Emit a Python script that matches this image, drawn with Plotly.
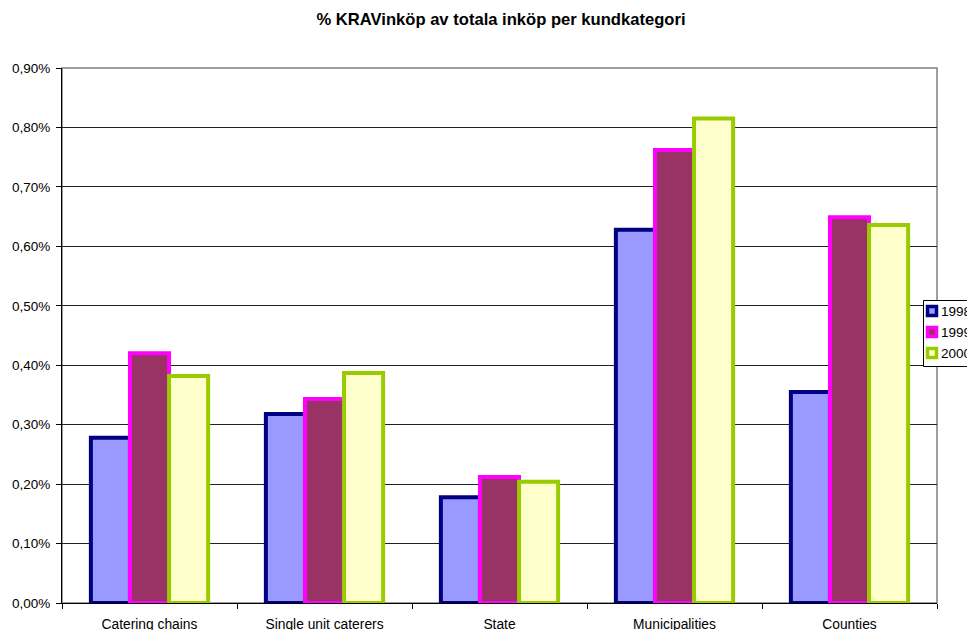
import plotly.graph_objects as go

categories = ["Catering chains", "Single unit caterers", "State", "Municipalities", "Counties"]
years = ["1998", "1999", "2000"]
v1998 = [0.278, 0.318, 0.178, 0.628, 0.355]
v1999 = [0.420, 0.343, 0.212, 0.762, 0.649]
v2000 = [0.382, 0.387, 0.204, 0.815, 0.636]
tick_vals = [0.0, 0.1, 0.2, 0.3, 0.4, 0.5, 0.6, 0.7, 0.8, 0.9]
tick_text = ["0,00%", "0,10%", "0,20%", "0,30%", "0,40%", "0,50%", "0,60%", "0,70%", "0,80%", "0,90%"]

fills = ["#9999FF", "#993366", "#FFFFCC"]
lines = ["#000080", "#FF00FF", "#99CC00"]

# page has an 8px body margin; the figure is sized so it fills the window
OFF = 8
W, H = 975 - OFF, 630 - OFF
PL, PR, PT, PB = 62, 937, 68, 603          # plot area in page pixels
ML, MR, MT, MB = PL - OFF, W + OFF - PR, PT - OFF, H + OFF - PB
PW, PH = PR - PL, PB - PT


def px_x(px):
    return (px - PL) / PW


def px_y(py):
    return (PB - py) / PH


fig = go.Figure()
for name, vals, fc, lc in zip(years, [v1998, v1999, v2000], fills, lines):
    fig.add_trace(go.Bar(
        x=categories, y=vals, name=name, showlegend=False,
        marker=dict(color=fc, line=dict(color=lc, width=4)),
    ))

FONT = "Liberation Sans, Arial, sans-serif"

shapes = [dict(type="rect", xref="paper", yref="paper", x0=0, y0=0, x1=1, y1=1,
               line=dict(color="#808080", width=1.5), layer="below"),
          dict(type="rect", xref="paper", yref="paper",
               x0=px_x(923.5), x1=px_x(990), y0=px_y(300.5), y1=px_y(366.5),
               line=dict(color="black", width=1), fillcolor="white", layer="above")]
annotations = []
for i, (name, fc, lc) in enumerate(zip(years, fills, lines)):
    cy = 311 + i * 21
    shapes.append(dict(type="rect", xref="paper", yref="paper",
                       x0=px_x(927.5), x1=px_x(936.5), y0=px_y(cy - 4.5), y1=px_y(cy + 4.5),
                       line=dict(color=lc, width=3.5), fillcolor=fc, layer="above"))
    annotations.append(dict(text=name, xref="paper", yref="paper", x=px_x(938.5), y=px_y(cy),
                            xanchor="left", yanchor="middle", showarrow=False,
                            font=dict(family=FONT, size=13.5, color="black")))

fig.update_layout(
    width=W, height=H,
    margin=dict(l=ML, r=MR, t=MT, b=MB, autoexpand=False),
    paper_bgcolor="white", plot_bgcolor="white",
    barmode="group", bargap=0.33, bargroupgap=0,
    font=dict(family=FONT, size=13, color="black"),
    title=dict(text="<b>% KRAVinköp av totala inköp per kundkategori</b>",
               x=(501 - OFF) / W, xanchor="center", y=1 - (19 - OFF) / H, yanchor="middle",
               font=dict(family=FONT, size=16.6, color="black")),
    showlegend=False,
    shapes=shapes,
    annotations=annotations,
)
fig.update_xaxes(
    showline=True, linecolor="black", linewidth=1,
    ticks="outside", tickson="boundaries", ticklen=5, tickcolor="black",
    showgrid=False, ticklabelstandoff=8,
    tickfont=dict(family=FONT, size=13.8, color="black"),
)
fig.update_yaxes(
    range=[0, 0.9], tickvals=tick_vals, ticktext=tick_text,
    showline=True, linecolor="black", linewidth=1,
    ticks="outside", ticklen=5, tickcolor="black",
    showgrid=True, gridcolor="#222222", gridwidth=1, zeroline=False,
    ticklabelstandoff=3,
    tickfont=dict(family=FONT, size=13.5, color="black"),
)

fig.write_html("out.html")
